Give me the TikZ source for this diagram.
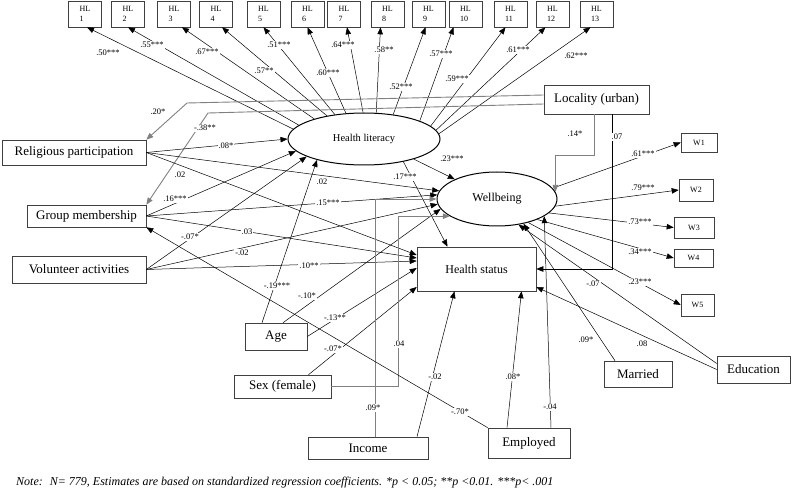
\documentclass[tikz,border=0pt]{standalone}
\usepackage{fontspec}
\setmainfont{Liberation Serif}
\usetikzlibrary{shapes.geometric,arrows.meta}

\begin{document}
\begin{tikzpicture}[x=1pt,y=-1pt,
    box/.style={draw=black!75, line width=0.6pt, inner sep=0pt, font=\fontsize{13}{15}\selectfont},
    ell/.style={ellipse, draw, line width=1pt, inner sep=0pt},
    hlbox/.style={draw=black!75, line width=0.6pt, minimum width=33pt, minimum height=26pt, inner sep=0pt, align=left, font=\fontsize{8}{10}\selectfont},
    wbox/.style={draw=black!75, line width=0.6pt, inner sep=0pt, font=\fontsize{8}{9}\selectfont},
    lbl/.style={fill=white, inner sep=1pt, font=\fontsize{8.5}{10}\selectfont},
    arr/.style={-{Triangle[length=7pt,width=5.5pt]}, line width=0.5pt},
    gline/.style={draw=black!50, line width=0.9pt}]
    \useasboundingbox (0,0) rectangle (796,489);
    % 潜在変数
    \node[ell, minimum width=152pt, minimum height=52pt, font=\fontsize{10.5}{12}\selectfont] (hlit) at (364,139) {Health literacy};
    \node[ell, minimum width=120pt, minimum height=54pt, font=\fontsize{12}{14}\selectfont] (wb) at (497,199) {Wellbeing};
    % 指標
    \node[hlbox] (hl1) at (85,14) {HL\\1};
    \node[hlbox] (hl2) at (128,14) {HL\\2};
    \node[hlbox] (hl3) at (174,14) {HL\\3};
    \node[hlbox] (hl4) at (216,14) {HL\\4};
    \node[hlbox] (hl5) at (263.5,14) {HL\\5};
    \node[hlbox] (hl6) at (307.5,14) {HL\\6};
    \node[hlbox] (hl7) at (344,14) {HL\\7};
    \node[hlbox] (hl8) at (387.5,14) {HL\\8};
    \node[hlbox] (hl9) at (428.5,14) {HL\\9};
    \node[hlbox] (hl10) at (465.5,14) {HL\\10};
    \node[hlbox] (hl11) at (510.5,14) {HL\\11};
    \node[hlbox] (hl12) at (552.5,14) {HL\\12};
    \node[hlbox] (hl13) at (596.5,14) {HL\\13};
    \node[wbox, minimum width=36pt, minimum height=19pt] (w1) at (699,142.5) {W1};
    \node[wbox, minimum width=34pt, minimum height=22pt] (w2) at (696,190) {W2};
    \node[wbox, minimum width=40pt, minimum height=21pt] (w3) at (694,227.5) {W3};
    \node[wbox, minimum width=39pt, minimum height=18pt] (w4) at (693.5,258) {W4};
    \node[wbox, minimum width=33pt, minimum height=22pt] (w5) at (697.5,305) {W5};
    % 説明変数
    \node[box, minimum width=105pt, minimum height=29pt] (loc) at (596.5,99.5) {Locality (urban)};
    \node[box, minimum width=144pt, minimum height=25pt] (rel) at (74,152.5) {Religious participation};
    \node[box, minimum width=119pt, minimum height=22pt] (gm) at (86.5,216) {Group membership};
    \node[box, minimum width=134pt, minimum height=27pt] (vol) at (79,269.5) {Volunteer activities};
    \node[box, minimum width=119pt, minimum height=44pt, font=\fontsize{12}{14}\selectfont] (hs) at (476.5,269) {Health status};
    \node[box, minimum width=62pt, minimum height=27pt] (age) at (276,336.5) {Age};
    \node[box, minimum width=97pt, minimum height=23pt] (sex) at (282.5,386.5) {Sex (female)};
    \node[box, minimum width=120pt, minimum height=22pt] (inc) at (368,448) {Income};
    \node[box, minimum width=82pt, minimum height=30pt] (emp) at (529,443) {Employed};
    \node[box, minimum width=68pt, minimum height=26pt] (mar) at (638,374) {Married};
    \node[box, minimum width=73pt, minimum height=27pt] (edu) at (753.5,369.5) {Education};
    % 因子負荷
    \draw[arr] (hlit.172) -- ([xshift=2]hl1.south);
    \draw[arr] (hlit.168) -- (hl2.south);
    \draw[arr] (hlit.158) -- ([xshift=8]hl3.south);
    \draw[arr] (hlit.148) -- ([xshift=6]hl4.south);
    \draw[arr] (hlit.140) -- (hl5.south);
    \draw[arr] (hlit.125) -- (hl6.south);
    \draw[arr] (hlit.92) -- ([xshift=3]hl7.south);
    \draw[arr] (hlit.65) -- ([xshift=-7]hl8.south);
    \draw[arr] (hlit.40) -- ([xshift=-3]hl9.south);
    \draw[arr] (hlit.18) -- ([xshift=-12]hl10.south);
    \draw[arr] (hlit.11) -- ([xshift=-5]hl11.south);
    \draw[arr] (hlit.7) -- ([xshift=-7]hl12.south);
    \draw[arr] (hlit.4) -- ([xshift=-6]hl13.south);
    \draw[arr] (wb.11) -- (w1.west);
    \draw[arr] (wb.353) -- (w2.west);
    \draw[arr] (wb.345) -- (w3.west);
    \draw[arr] (wb.333) -- (w4.west);
    \draw[arr] (wb.323) -- (w5.west);
    % パス
    \draw[arr,gline] ([yshift=4.5]loc.west) -- (187,103) -- (rel.north east);
    \draw[arr,gline] ([yshift=-4.5]loc.west) -- (208,113) -- (gm.north east);
    \draw[arr,gline] ([xshift=-2]loc.south) -- ++(0,41) -| (wb.7);
    \draw[arr] ([xshift=16]loc.south) |- (hs.east);
    \draw[arr] (rel.east) -- (hlit.west);
    \draw[arr] (rel.east) -- (wb.172);
    \draw[arr] (rel.east) -- ([yshift=14]hs.west);
    \draw[arr] (gm.east) -- (hlit.190);
    \draw[arr] (gm.east) -- (wb.176);
    \draw[arr] (gm.east) -- ([yshift=11]hs.west);
    \draw[arr] (vol.east) -- (hlit.197);
    \draw[arr] (vol.east) -- (wb.185);
    \draw[arr] (vol.east) -- ([yshift=8]hs.west);
    \draw[arr] (hlit.338) -- (wb.155);
    \draw[arr] (hlit.330) -- ([xshift=-29]hs.north);
    \draw[arr] ([xshift=-14]age.north) -- (hlit.204);
    \draw[arr] ([xshift=7]age.north) -- (wb.190);
    \draw[arr] (age.east) -- ([yshift=1]hs.west);
    \draw[arr] ([xshift=26]sex.north) -- ([yshift=-18]hs.west);
    \draw[arr,gline] (sex.east) -- ++(67,0) |- (wb.200);
    \draw[arr,gline] ([xshift=7]inc.north) |- (wb.west);
    \draw[arr] ([xshift=49]inc.north) -- ([xshift=-22]hs.south);
    \draw[arr] ([xshift=-22]emp.north) -- ([xshift=45]hs.south);
    \draw[arr] ([xshift=22]emp.north) -- (wb.340);
    \draw[arr] (emp.north west) -- (gm.south east);
    \draw[arr] ([xshift=-23]mar.north) -- (wb.317);
    \draw[arr] ([yshift=6]edu.west) -- (wb.310);
    \draw[arr] (edu.west) -- ([yshift=-18]hs.east);
    % 係数
    \node[lbl] (c1) at (108,53) {.50***};
    \node[lbl] (c2) at (152,45) {.55***};
    \node[lbl] (c3) at (207,52) {.67***};
    \node[lbl] (c4) at (264,71) {.57**};
    \node[lbl] (c5) at (279,45) {.51***};
    \node[lbl] (c6) at (328,73) {.60***};
    \node[lbl] (c7) at (343,45) {.64***};
    \node[lbl] (c8) at (384,50) {.58**};
    \node[lbl] (c9) at (401,87) {.52***};
    \node[lbl] (c10) at (441,54) {.57***};
    \node[lbl] (c11) at (457,79) {.59***};
    \node[lbl] (c12) at (518,50) {.61***};
    \node[lbl] (c13) at (576,56) {.62***};
    \node[lbl] (cw1) at (643,154) {.61***};
    \node[lbl] (cw2) at (643,188) {.79***};
    \node[lbl] (cw3) at (640,222) {.73***};
    \node[lbl] (cw4) at (640,252) {.34***};
    \node[lbl] (cw5) at (640,282) {.23***};
    \node[lbl] (lrel) at (158,112) {.20*};
    \node[lbl] (lgm) at (205,128) {-.38**};
    \node[lbl] (lwb) at (575,134) {.14*};
    \node[lbl] (lhs) at (617,137) {.07};
    \node[lbl] (relhl) at (226,146) {.08*};
    \node[lbl] (relhs) at (180,175) {.02};
    \node[lbl] (relwb) at (322,182) {.02};
    \node[lbl] (gmhl) at (175,199) {.16***};
    \node[lbl] (gmwb) at (328,203) {.15***};
    \node[lbl] (gmhs) at (247,232) {.03};
    \node[lbl] (volhl) at (190,237) {-.07*};
    \node[lbl] (volwb) at (242,253) {-.02};
    \node[lbl] (volhs) at (309,266) {.10**};
    \node[lbl] (hlwb) at (452,159) {.23***};
    \node[lbl] (hlhs) at (405,177) {.17***};
    \node[lbl] (agehl) at (277,286) {-.19***};
    \node[lbl] (agewb) at (307,296) {-.10*};
    \node[lbl] (agehs) at (335,318) {-.13**};
    \node[lbl] (sexhs) at (333,349) {-.07*};
    \node[lbl] (sexwb) at (399,344) {.04};
    \node[lbl] (incwb) at (373,408) {.09*};
    \node[lbl] (inchs) at (435,377) {-.02};
    \node[lbl] (emphs) at (513,377) {.08*};
    \node[lbl] (empwb) at (550,407) {-.04};
    \node[lbl] (empgm) at (460,412) {-.70*};
    \node[lbl] (marwb) at (586,340) {.09*};
    \node[lbl] (eduhs) at (642,344) {.08};
    \node[lbl] (eduwb) at (593,284) {-.07};
    % 注
    \node[anchor=west, inner sep=0pt, font=\itshape\fontsize{12}{14}\selectfont] (note) at (16,483) {Note:~ N= 779, Estimates are based on standardized regression coefficients. *p < 0.05; **p <0.01. ***p< .001};
\end{tikzpicture}
\end{document}
